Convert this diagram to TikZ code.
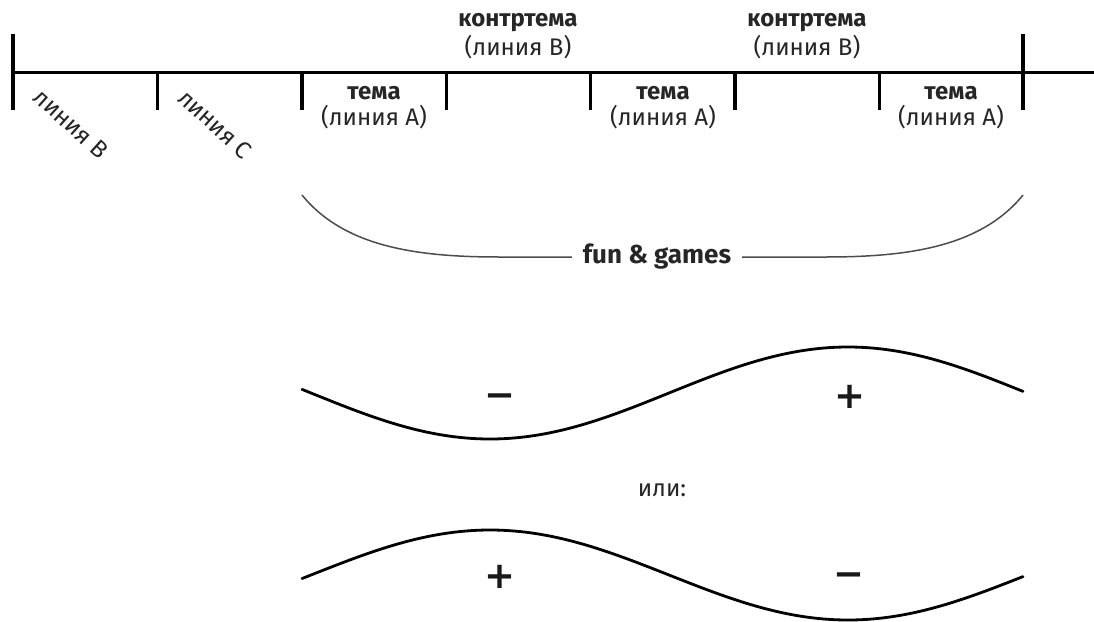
\documentclass[tikz,border=0pt]{standalone}
\usepackage{fontspec}
\setmainfont{Fira Sans}
\newfontfamily\signfont{DejaVu Sans}
\begin{document}
\begin{tikzpicture}[x=1pt,y=-1pt,
  axis/.style={line width=3pt,black},
  bigtick/.style={line width=3.6pt,black},
  smalltick/.style={line width=3.4pt,black},
  wave/.style={line width=2.8pt,black,line cap=round},
  brace/.style={line width=1.5pt,black!70},
  lbl/.style={font=\fontsize{24}{26}\selectfont,text=black!85,inner sep=0pt},
  blbl/.style={font=\fontsize{24}{26}\selectfont\bfseries,text=black!85,inner sep=0pt},
  sign/.style={font=\signfont\fontsize{37}{40}\selectfont\bfseries,text=black!90,inner sep=0pt}]
\useasboundingbox (0,0) rectangle (1094,621);

% timeline
\coordinate (t0) at (13,72);
\coordinate (tend) at (1094,72);
\draw[axis] (t0) -- (tend);
\draw[bigtick] (13,34) -- (13,110);
\draw[bigtick] (1023,34) -- (1023,110);
\foreach \x in {157.4,301.9,446.3,590.7,735.1,879.6}
  \draw[smalltick] (\x,72) -- (\x,110);

% rotated labels for the first two segments
\node[lbl,rotate=-42] (lb) at (71,124) {линия B};
\node[lbl,rotate=-42] (lc) at (215,124) {линия C};

% theme entries below the line
\foreach \c/\n in {374/a1,663/a2,951/a3}{
  \node[blbl] (t\n) at (\c,93) {тема};
  \node[lbl] (s\n) at (\c,117) {(линия A)};
}
% counter-theme entries above the line
\foreach \c/\n in {518/b1,807/b2}{
  \node[blbl] (t\n) at (\c,23) {контртема};
  \node[lbl] (s\n) at (\c,47) {(линия B)};
}

% brace labelled fun & games
\node[blbl,font=\fontsize{26}{28}\selectfont\bfseries,inner xsep=11pt] (fg) at (657,257) {fun \& games};
\coordinate (bl) at (302,195);
\coordinate (br) at (1023,195);
\draw[brace] (bl) .. controls (345,248) and (420,257) .. (500,257) -- (fg.west);
\draw[brace] (br) .. controls (980,248) and (905,257) .. (825,257) -- (fg.east);

% first wave (period 716)
\draw[wave] plot[domain=302:1023,samples=150,smooth] (\x,{393+46*cos(0.50279*(\x-490))});
\node[sign] (m1) at (500,396) {\vphantom{+}−};
\node[sign] (p1) at (850,397) {+};

\node[lbl] (or) at (662,490) {или:};

% second wave
\draw[wave] plot[domain=302:1023,samples=150,smooth] (\x,{575-45*cos(0.50279*(\x-490))});
\node[sign] (p2) at (500,577) {+};
\node[sign] (m2) at (849,575) {\vphantom{+}−};
\end{tikzpicture}
\end{document}
